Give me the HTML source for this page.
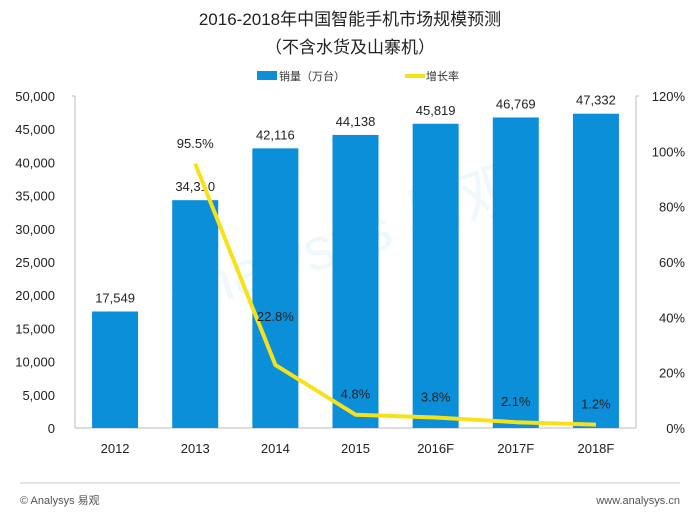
<!DOCTYPE html>
<html><head><meta charset="utf-8"><style>
body{margin:0;background:#fff;}
svg text{font-family:"Liberation Sans","Noto Sans CJK SC",sans-serif;}
</style></head><body>
<svg id="c" width="700" height="525" xmlns="http://www.w3.org/2000/svg">
<text x="350" y="25" text-anchor="middle" font-size="17" fill="#222">2016-2018年中国智能手机市场规模预测</text>
<text x="350" y="53" text-anchor="middle" font-size="17" fill="#222">（不含水货及山寨机）</text>
<g>
<rect x="257" y="71" width="20" height="9" fill="#0b8fd9"/>
<text x="279" y="80" font-size="11" fill="#333">销量（万台）</text>
<line x1="405" y1="76" x2="425" y2="76" stroke="#f7e21a" stroke-width="4"/>
<text x="426" y="80" font-size="11" fill="#333">增长率</text>
</g>
<text x="350" y="260" text-anchor="middle" font-size="60" fill="#0b8fd9" opacity="0.06" transform="rotate(-18 350 260)">analysys 易观</text>
<g id="axes"></g><g id="bars"></g><g id="line"></g>
<line x1="20" y1="483" x2="680" y2="483" stroke="#ddd" stroke-width="1.5"/>
<text x="20" y="504" font-size="11" fill="#555">© Analysys 易观</text>
<text x="680" y="504" text-anchor="end" font-size="11" fill="#555">www.analysys.cn</text>
</svg>
<script>
const categories=["2012","2013","2014","2015","2016F","2017F","2018F"];
const sales=[17549,34310,42116,44138,45819,46769,47332];
const growth=[null,95.5,22.8,4.8,3.8,2.1,1.2];
const leftTicks=[0,5000,10000,15000,20000,25000,30000,35000,40000,45000,50000];
const rightTicks=[0,20,40,60,80,100,120];
const NS="http://www.w3.org/2000/svg";
const L=75,R=636,T=96,B=428;
const band=(R-L)/categories.length;
const xc=i=>L+band*(i+0.5);
const yL=v=>B-(v/50000)*(B-T);
const yR=v=>B-(v/120)*(B-T);
function mk(tag,attrs,parent,text){const e=document.createElementNS(NS,tag);for(const k in attrs)e.setAttribute(k,attrs[k]);if(text!==undefined)e.textContent=text;document.getElementById(parent).appendChild(e);return e;}
const fmt=v=>v.toLocaleString("en-US");
// axes
let e;
e=mk("line",{x1:L,y1:T,x2:L,y2:B,stroke:"#bbb"},"axes");


e=mk("line",{x1:R,y1:T,x2:R,y2:B,stroke:"#bbb"},"axes");


e=mk("line",{x1:L,y1:B,x2:R,y2:B,stroke:"#bbb"},"axes");


mk("line",{x1:L-3,y1:T,x2:L,y2:T,stroke:"#bbb"},"axes");
mk("line",{x1:R,y1:T,x2:R+3,y2:T,stroke:"#bbb"},"axes");
leftTicks.forEach(v=>{
 e=mk("text",{x:L-20,y:yL(v)+5,"text-anchor":"end","font-size":"13",fill:"#222"},"axes",fmt(v));
 
 
});
rightTicks.forEach(v=>{
 e=mk("text",{x:R+49,y:yR(v)+5,"text-anchor":"end","font-size":"13",fill:"#222"},"axes",v+"%");
 
 
});
categories.forEach((c,i)=>{
 e=mk("text",{x:xc(i),y:B+25,"text-anchor":"middle","font-size":"13",fill:"#222"},"axes",c);
 
 
});
// bars
const bw=46;
sales.forEach((v,i)=>{
 e=mk("rect",{x:xc(i)-bw/2,y:yL(v),width:bw,height:B-yL(v),fill:"#0b8fd9"},"bars");
 
 
 e=mk("text",{x:xc(i),y:yL(v)-9,"text-anchor":"middle","font-size":"13",fill:"#222"},"bars",fmt(v));
 
 
});
// line
const pts=[];growth.forEach((g,i)=>{if(g!==null)pts.push([xc(i),yR(g),g]);});
e=mk("polyline",{points:pts.map(p=>p[0]+","+p[1]).join(" "),fill:"none",stroke:"#f7e21a","stroke-width":"4","stroke-linejoin":"round"},"line");


pts.forEach((p,k)=>{
 const off=(k===1)?44:16;
 e=mk("text",{x:p[0],y:p[1]-off,"text-anchor":"middle","font-size":"13",fill:"#222"},"line",p[2].toFixed(1)+"%");
 
 
});
</script>
</body></html>
